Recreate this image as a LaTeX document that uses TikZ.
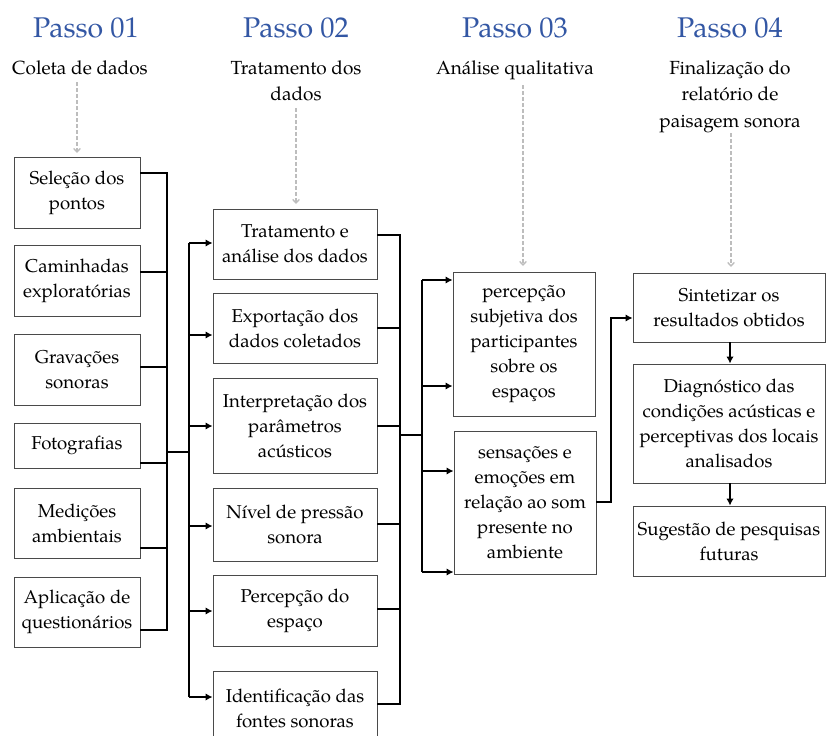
\documentclass[tikz,border=0pt]{standalone}
\usepackage{fontspec}
\setmainfont{TeX Gyre Pagella}
\usetikzlibrary{arrows.meta}
\definecolor{headblue}{HTML}{3357A4}
\definecolor{boxgray}{HTML}{4A4A4A}
\definecolor{dashgray}{HTML}{BDBDBD}
\begin{document}
\begin{tikzpicture}[x=1pt,y=-1pt,
  box/.style={draw=boxgray,line width=0.9pt,rectangle,inner sep=0pt,align=center,
    font=\fontsize{18.6}{25}\selectfont},
  head/.style={text=headblue,font=\fontsize{28.5}{32}\selectfont,anchor=base,inner sep=0pt},
  sub/.style={font=\fontsize{19}{26.5}\selectfont,anchor=base,inner sep=0pt},
  conn/.style={line width=1.9pt,black},
  arr/.style={conn,-{Latex[length=7pt,width=7.5pt]}},
  darr/.style={dashgray,line width=1.4pt,dash pattern=on 4pt off 2pt,-{Straight Barb[length=3.5pt,width=6.5pt]}}]
\useasboundingbox (0,0) rectangle (827,736);

% headers
\node[head] (h1) at (86,37) {Passo 01};
\node[head] (h2) at (296,37) {Passo 02};
\node[head] (h3) at (515,37) {Passo 03};
\node[head] (h4) at (730,37) {Passo 04};

\newcommand{\sublines}[1]{\begin{tabular}[t]{@{}c@{}}#1\end{tabular}}
\node[sub] (s1) at (80,74) {\sublines{Coleta de dados}};
\node[sub] (s2) at (296,74) {\sublines{Tratamento dos\\dados}};
\node[sub] (s3) at (515,74) {\sublines{Análise qualitativa}};
\node[sub] (s4) at (730,74) {\sublines{Finalização do\\relatório de\\paisagem sonora}};

% column 1
\node[box,minimum width=126pt,minimum height=71pt] (b1) at (77,192.5) {Seleção dos\\pontos};
\node[box,minimum width=126pt,minimum height=71pt] (b2) at (77,280.5) {Caminhadas\\exploratórias};
\node[box,minimum width=126pt,minimum height=71pt] (b3) at (77,369.5) {Gravações\\sonoras};
\node[box,minimum width=126pt,minimum height=45pt] (b4) at (77,445.5) {Fotografias};
\node[box,minimum width=126pt,minimum height=70pt] (b5) at (77,523) {Medições\\ambientais};
\node[box,minimum width=126pt,minimum height=70pt] (b6) at (77,612) {Aplicação de\\questionários};

% column 2
\node[box,minimum width=164pt,minimum height=70pt] (c1) at (295,244) {Tratamento e\\análise dos dados};
\node[box,minimum width=164pt,minimum height=70pt] (c2) at (295,328) {Exportação dos\\dados coletados};
\node[box,minimum width=164pt,minimum height=95pt] (c3) at (295,425.5) {Interpretação dos\\parâmetros\\acústicos};
\node[box,minimum width=164pt,minimum height=73pt] (c4) at (295,524.5) {Nível de pressão\\sonora};
\node[box,minimum width=164pt,minimum height=71pt] (c5) at (295,610.5) {Percepção do\\espaço};
\node[box,minimum width=164pt,minimum height=74pt] (c6) at (295,708) {Identificação das\\fontes sonoras};

% column 3
\node[box,minimum width=142pt,minimum height=144pt] (d1) at (524,344) {percepção\\subjetiva dos\\participantes\\sobre os\\espaços};
\node[box,minimum width=142pt,minimum height=143pt] (d2) at (525,502.5) {sensações e\\emoções em\\relação ao som\\presente no\\ambiente};

% column 4
\node[box,minimum width=192pt,minimum height=69pt] (e1) at (729,307.5) {Sintetizar os\\resultados obtidos};
\node[box,minimum width=192pt,minimum height=119pt] (e2) at (729,423.5) {Diagnóstico das\\condições acústicas e\\perceptivas dos locais\\analisados};
\node[box,minimum width=192pt,minimum height=70pt] (e3) at (729,541) {Sugestão de pesquisas\\futuras};

% dashed arrows
\draw[darr] (77,82) -- (77,153);
\draw[darr] (296,108) -- (296,204);
\draw[darr] (523,85) -- (523,266);
\draw[darr] (731,133) -- (731,267);

% bus coordinates
\coordinate (J1) at (167,452);
\coordinate (J2) at (189,452);
\coordinate (J3) at (400,435);
\coordinate (J4) at (422,435);
\coordinate (K1) at (611,502);

% column 1 -> bus
\draw[conn] (b1.east |- 0,173) -- (167,173) -- (167,630) -- (b6.east |- 0,630);
\draw[conn] (b2.east |- 0,272) -- (167,272);
\draw[conn] (b3.east |- 0,367) -- (167,367);
\draw[conn] (b4.east |- 0,463) -- (167,463);
\draw[conn] (b5.east |- 0,548) -- (167,548);
\draw[conn] (J1) -- (J2);
\draw[conn] (189,243) -- (189,697);
\draw[arr] (189,243) -- (c1.west |- 0,243);
\draw[arr] (189,335) -- (c2.west |- 0,335);
\draw[arr] (189,426) -- (c3.west |- 0,426);
\draw[arr] (189,526) -- (c4.west |- 0,526);
\draw[arr] (189,611) -- (c5.west |- 0,611);
\draw[arr] (189,697) -- (c6.west |- 0,697);

% column 2 -> bus
\draw[conn] (c1.east |- 0,235) -- (400,235) -- (400,704) -- (c6.east |- 0,704);
\draw[conn] (c2.east |- 0,328) -- (400,328);
\draw[conn] (c3.east |- 0,426) -- (400,426);
\draw[conn] (c4.east |- 0,524) -- (400,524);
\draw[conn] (c5.east |- 0,609) -- (400,609);
\draw[conn] (J3) -- (J4);
\draw[conn] (422,280) -- (422,572);
\draw[arr] (422,280) -- (d1.west |- 0,280);
\draw[arr] (422,386) -- (d1.west |- 0,386);
\draw[arr] (422,471) -- (d2.west |- 0,471);
\draw[arr] (422,572) -- (d2.west |- 0,572);

% column 3 -> column 4
\draw[arr] (d2.east |- K1) -- (K1) |- (e1.west |- 0,318);
\draw[arr] (e1.south -| 730,0) -- (e2.north -| 730,0);
\draw[arr] (e2.south -| 730,0) -- (e3.north -| 730,0);
\end{tikzpicture}
\end{document}
